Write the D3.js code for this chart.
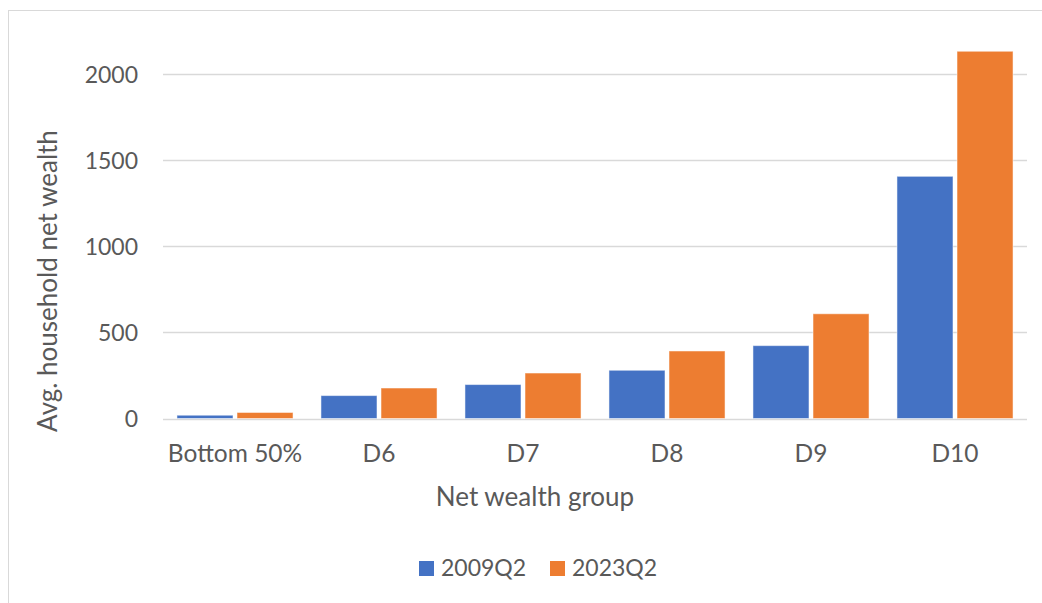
<!DOCTYPE html>
<html>
<head>
<meta charset="utf-8">
<script src="https://cdn.jsdelivr.net/npm/d3@7"></script>
<style>
  html, body { margin: 0; padding: 0; background: #fff; }
  svg { display: block; }
  text { font-family: Lato, "Open Sans", sans-serif; fill: #595959; }
</style>
</head>
<body>
<svg id="chart" width="1042" height="603"></svg>
<script>
// Net wealth groups and average household net wealth per period
const groups = ["Bottom 50%", "D6", "D7", "D8", "D9", "D10"];
const seriesNames = ["2009Q2", "2023Q2"];
const wealth2009Q2 = [19, 133, 197, 280, 423, 1406];
const wealth2023Q2 = [35, 177, 264, 392, 608, 2132];
const yTicks = [0, 500, 1000, 1500, 2000];
const colors = ["#4472C4", "#ED7D31"];

const rows = groups.map((g, i) => ({ group: g, values: [wealth2009Q2[i], wealth2023Q2[i]] }));

const svg = d3.select("#chart");

// chart frame (only top and left edges fall inside the canvas)
svg.append("rect")
  .attr("x", 8.5).attr("y", 10.5)
  .attr("width", 1100).attr("height", 700)
  .attr("fill", "none").attr("stroke", "#D9D9D9").attr("stroke-width", 1);

const plot = { left: 163, right: 1027 };

const x0 = d3.scaleBand()
  .domain(groups)
  .range([plot.left, plot.right])
  .paddingInner(0.194)
  .paddingOuter(0.097);

const x1 = d3.scaleBand()
  .domain(seriesNames)
  .range([0, x0.bandwidth()])
  .paddingInner(0.067);

const y = d3.scaleLinear().domain([0, 2000]).range([418.5, 74]);

// gridlines
svg.append("g")
  .selectAll("line")
  .data(yTicks)
  .join("line")
  .attr("x1", plot.left).attr("x2", plot.right)
  .attr("y1", d => Math.round(y(d)) + 0.5).attr("y2", d => Math.round(y(d)) + 0.5)
  .attr("stroke", "#D9D9D9").attr("stroke-width", 1.5);

// y tick labels
svg.append("g")
  .selectAll("text")
  .data(yTicks)
  .join("text")
  .attr("x", 138)
  .attr("y", d => y(d) + 8.5)
  .attr("text-anchor", "end")
  .attr("font-size", 23)
  .text(d => d);

// bars
svg.append("g")
  .selectAll("g")
  .data(rows)
  .join("g")
  .attr("transform", d => `translate(${x0(d.group)},0)`)
  .selectAll("rect")
  .data(d => d.values.map((v, i) => ({ key: seriesNames[i], value: v, i })))
  .join("rect")
  .attr("x", d => x1(d.key))
  .attr("width", x1.bandwidth())
  .attr("y", d => y(d.value))
  .attr("height", d => y(0) - y(d.value))
  .attr("fill", d => colors[d.i])
  .attr("stroke", "#ffffff").attr("stroke-opacity", 0.5).attr("stroke-width", 1);

// x category labels
svg.append("g")
  .selectAll("text")
  .data(groups)
  .join("text")
  .attr("x", d => x0(d) + x0.bandwidth() / 2)
  .attr("y", 462)
  .attr("text-anchor", "middle")
  .attr("font-size", 24.5)
  .text(d => d);

// axis titles
svg.append("text")
  .attr("x", 535).attr("y", 506)
  .attr("text-anchor", "middle")
  .attr("font-size", 26)
  .text("Net wealth group");

svg.append("text")
  .attr("transform", "translate(57,281) rotate(-90)")
  .attr("text-anchor", "middle")
  .attr("font-size", 26)
  .text("Avg. household net wealth");

// legend
const legendItems = [
  { name: seriesNames[0], color: colors[0], x: 419 },
  { name: seriesNames[1], color: colors[1], x: 550 }
];
const legend = svg.append("g");
legend.selectAll("rect")
  .data(legendItems)
  .join("rect")
  .attr("x", d => d.x).attr("y", 561)
  .attr("width", 15).attr("height", 15)
  .attr("fill", d => d.color);
legend.selectAll("text")
  .data(legendItems)
  .join("text")
  .attr("x", d => d.x + 22).attr("y", 576)
  .attr("font-size", 23)
  .text(d => d.name);
</script>
</body>
</html>
